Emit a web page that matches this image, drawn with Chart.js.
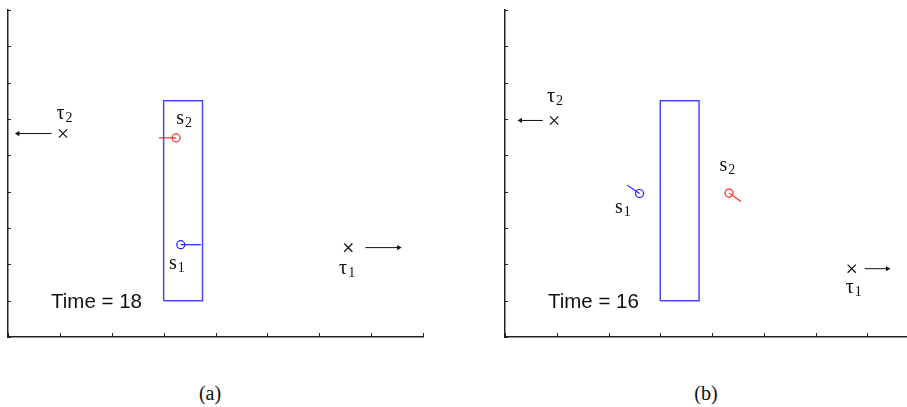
<!DOCTYPE html>
<html>
<head>
<meta charset="utf-8">
<script src="https://cdn.jsdelivr.net/npm/chart.js@4/dist/chart.umd.min.js"></script>
<style>
  html, body { margin: 0; padding: 0; background: #fff; }
  body { width: 907px; height: 407px; position: relative; overflow: hidden; }
  canvas { position: absolute; top: 0; }
  #c0 { left: 0; }
  #c1 { left: 496px; }
  .caption { position: absolute; top: 382px; font: 20px "Liberation Serif", "DejaVu Serif", serif; color: #111; transform: translateX(-50%); }
</style>
</head>
<body>
<canvas id="c0" width="440" height="350"></canvas>
<canvas id="c1" width="440" height="350"></canvas>
<div class="caption" style="left:210px">(a)</div>
<div class="caption" style="left:706px">(b)</div>
<script>
// one entry per panel: [panel (a), panel (b)]
var timeLabels = ["Time = 18", "Time = 16"];
var timePos = [[0.83, 0.95], [0.83, 0.95]];

// the blue obstacle box, same in both panels
var boxCorners = [[3, 1], [3, 6.5], [3.75, 6.5], [3.75, 1], [3, 1]];

var s1Pos = [[3.33, 2.54], [2.6, 3.95]];
var s1Tail = [[3.72, 2.54], [2.36, 4.18]];
var s1Label = [[3.18, 2.0], [2.2, 3.54]];

var s2Pos = [[3.24, 5.48], [4.33, 3.96]];
var s2Tail = [[2.91, 5.48], [4.56, 3.73]];
var s2Label = [[3.32, 6.0], [4.22, 4.68]];

var tau1Pos = [[6.56, 2.46], [6.7, 1.88]];
var tau1Arrow = [[[6.89, 2.46], [7.53, 2.46]], [[6.95, 1.88], [7.39, 1.88]]];
var tau1Label = [[6.46, 1.86], [6.66, 1.34]];

var tau2Pos = [[1.06, 5.6], [0.95, 5.96]];
var tau2Arrow = [[[0.84, 5.6], [0.19, 5.6]], [[0.73, 5.96], [0.30, 5.96]]];
var tau2Label = [[1.01, 6.13], [0.89, 6.58]];

var xRange = [0, 8], yRange = [0, 9];

var boxColor = "rgb(70,70,255)",
    s1Color = "rgb(30,30,255)",
    s2Color = "rgb(255,40,40)";

function pt(p) { return {x: p[0], y: p[1]}; }

function segment(a, b, color, width) {
    return {data: [pt(a), pt(b)], showLine: true, borderColor: color, borderWidth: width, pointRadius: 0};
}

function arrow(a, b) {
    // arrowhead is a triangle marker on the end point
    var dir = b[0] > a[0] ? 90 : -90;
    return {data: [pt(a), pt(b)], showLine: true, borderColor: "#111", borderWidth: 1,
            pointRadius: [0, 3], pointStyle: "triangle", pointRotation: dir,
            pointBackgroundColor: "#111", pointBorderColor: "#111", pointBorderWidth: 0};
}

function marker(p, style, color, r) {
    return {data: [pt(p)], pointStyle: style, pointRadius: r, borderColor: color,
            pointBorderColor: color, pointBackgroundColor: "rgba(0,0,0,0)", pointBorderWidth: 1.2};
}

// inward ticks on the left and bottom axes
var innerTicks = {
    id: "innerTicks",
    afterDraw: function(chart) {
        var ctx = chart.ctx, a = chart.chartArea;
        ctx.save();
        ctx.strokeStyle = "#222";
        ctx.lineWidth = 1;
        chart.scales.x.ticks.forEach(function(t) {
            var px = Math.round(chart.scales.x.getPixelForValue(t.value)) + 0.5;
            ctx.beginPath(); ctx.moveTo(px, a.bottom); ctx.lineTo(px, a.bottom - 4); ctx.stroke();
        });
        chart.scales.y.ticks.forEach(function(t) {
            var py = Math.round(chart.scales.y.getPixelForValue(t.value)) + 0.5;
            ctx.beginPath(); ctx.moveTo(a.left, py); ctx.lineTo(a.left + 3, py); ctx.stroke();
        });
        ctx.restore();
    }
};

// symbol labels with subscripts, and the time stamp
var textLabels = {
    id: "textLabels",
    afterDatasetsDraw: function(chart, args, opts) {
        var ctx = chart.ctx, xs = chart.scales.x, ys = chart.scales.y, i = opts.panel;
        function sym(p, main, sub) {
            var px = xs.getPixelForValue(p[0]), py = ys.getPixelForValue(p[1]);
            ctx.font = "20px 'Liberation Serif', 'DejaVu Serif', serif";
            var w = ctx.measureText(main).width;
            ctx.textAlign = "left";
            ctx.textBaseline = "alphabetic";
            ctx.fillText(main, px - w / 2, py + 4.5);
            ctx.font = "14px 'Liberation Serif', 'DejaVu Serif', serif";
            ctx.fillText(sub, px + w / 2 + 1, py + 7.5);
        }
        ctx.save();
        ctx.fillStyle = "#111";
        sym(s1Label[i], "s", "1");
        sym(s2Label[i], "s", "2");
        sym(tau1Label[i], "\u03c4", "1");
        sym(tau2Label[i], "\u03c4", "2");
        ctx.font = "20.5px 'Liberation Sans', Arial, sans-serif";
        ctx.textAlign = "left";
        ctx.textBaseline = "middle";
        ctx.fillText(timeLabels[i], xs.getPixelForValue(timePos[i][0]), ys.getPixelForValue(timePos[i][1]));
        ctx.restore();
    }
};

function drawPanel(i) {
    var datasets = [
        {data: boxCorners.map(pt), showLine: true, borderColor: boxColor, borderWidth: 1.5, pointRadius: 0},
        segment(s1Pos[i], s1Tail[i], s1Color, 1.2),
        segment(s2Pos[i], s2Tail[i], s2Color, 1.2),
        marker(s1Pos[i], "circle", s1Color, 4),
        marker(s2Pos[i], "circle", s2Color, 4),
        marker(tau1Pos[i], "crossRot", "#111", 5.8),
        marker(tau2Pos[i], "crossRot", "#111", 5.8),
        arrow(tau1Arrow[i][0], tau1Arrow[i][1]),
        arrow(tau2Arrow[i][0], tau2Arrow[i][1])
    ];
    var axis = function(r) {
        return {type: "linear", min: r[0], max: r[1],
                ticks: {display: false, stepSize: 1},
                grid: {display: false, drawTicks: false},
                border: {display: true, color: "#222", width: 1.5}};
    };
    new Chart(document.getElementById("c" + i), {
        type: "scatter",
        data: {datasets: datasets},
        options: {
            responsive: false,
            animation: false,
            clip: false,
            layout: {padding: {left: i === 0 ? 8 : 9, top: 10, right: 17, bottom: 13}},
            scales: {x: axis(xRange), y: axis(yRange)},
            plugins: {legend: {display: false}, tooltip: {enabled: false}, textLabels: {panel: i}}
        },
        plugins: [innerTicks, textLabels]
    });
}

drawPanel(0);
drawPanel(1);
</script>
</body>
</html>
